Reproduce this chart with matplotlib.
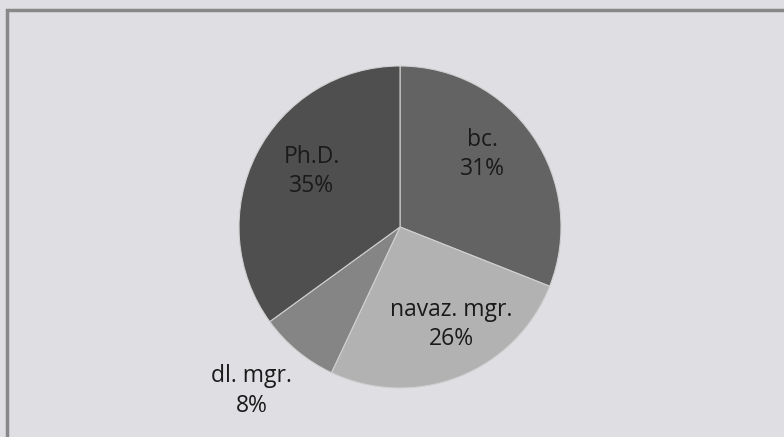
import matplotlib
matplotlib.use("Agg")
import matplotlib.pyplot as plt
from matplotlib.patches import Rectangle

labels = ["bc.", "navaz. mgr.", "dl. mgr.", "Ph.D."]
values = [31, 26, 8, 35]
colors = ["#636363", "#b2b2b2", "#858585", "#4f4f4f"]
label_pos = [(0.51, 0.45), (0.32, -0.605), (-0.92, -1.02), (-0.55, 0.345)]

W, H = 784, 437
fig = plt.figure(figsize=(W / 100, H / 100), dpi=100, facecolor="#dfdee3")

cx, cy, r = 400, 227, 161
ax = fig.add_axes([(cx - r) / W, (H - cy - r) / H, 2 * r / W, 2 * r / H])
ax.set_facecolor("none")
ax.pie(values, colors=colors, startangle=90, counterclock=False,
       wedgeprops=dict(edgecolor="#d0d0d0", linewidth=0.8), radius=1.0)
ax.set_xlim(-1, 1)
ax.set_ylim(-1, 1)
ax.set_aspect("equal")
ax.axis("off")

for lab, v, (x, y) in zip(labels, values, label_pos):
    ax.text(x, y, f"{lab}\n{v}%", ha="center", va="center", fontsize=16.5,
            color="#1a1a1a", family="Open Sans", linespacing=1.32, clip_on=False)

fig.patches.append(Rectangle((7 / W, -0.1), 1.2, (H - 10) / H + 0.1,
                             transform=fig.transFigure, fill=False,
                             edgecolor="#888888", linewidth=2.5))

fig.savefig("out.png", dpi=100, facecolor=fig.get_facecolor())
